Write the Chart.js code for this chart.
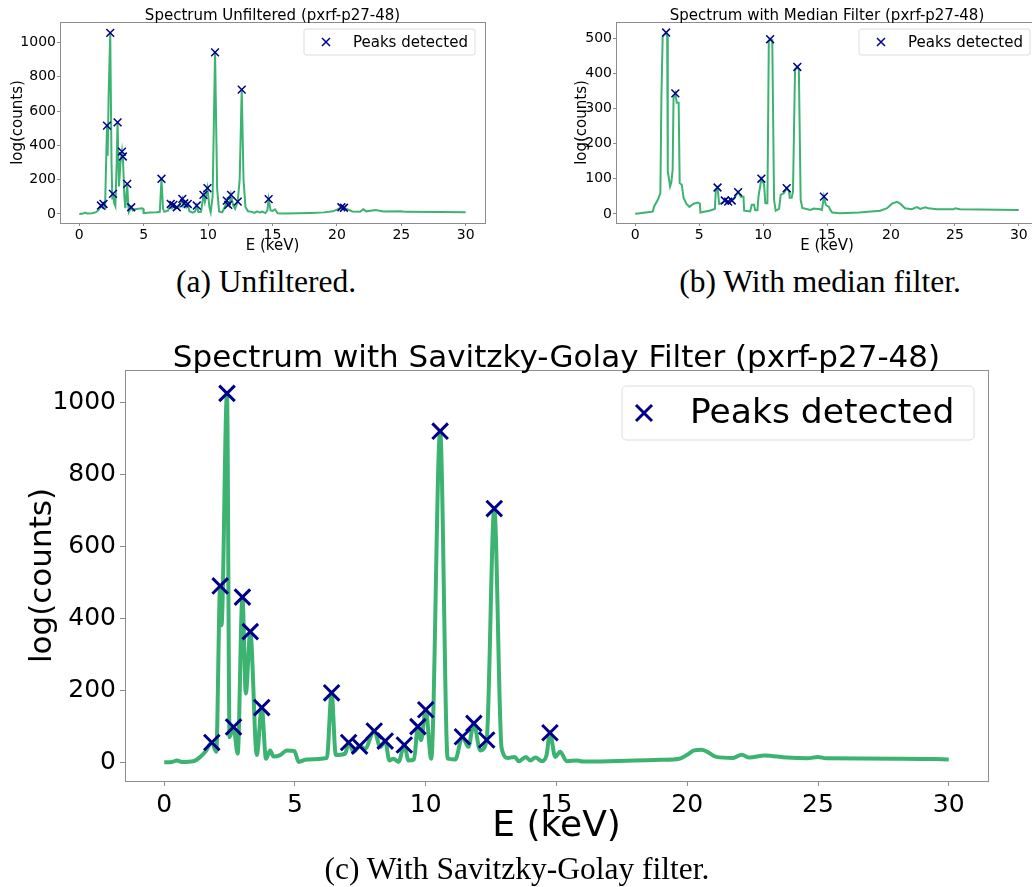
<!DOCTYPE html>
<html>
<head>
<meta charset="utf-8">
<script src="https://cdn.jsdelivr.net/npm/chart.js@4/dist/chart.umd.min.js"></script>
<style>
  html, body { margin: 0; padding: 0; background: #fff; }
  body { position: relative; width: 1032px; height: 887px; overflow: hidden; }
  canvas { position: absolute; }
  .caption {
    position: absolute; transform: translateX(-50%); white-space: nowrap;
    font-family: 'Liberation Serif', 'DejaVu Serif', serif; font-size: 31.5px; color: #000;
  }
</style>
</head>
<body>
<canvas id="chartRaw" width="500" height="255" style="left:0;top:0"></canvas>
<canvas id="chartMedian" width="500" height="255" style="left:560px;top:0"></canvas>
<canvas id="chartSavgol" width="1032" height="535" style="left:0;top:320px"></canvas>
<div class="caption" style="left:266px;top:264px">(a) Unfiltered.</div>
<div class="caption" style="left:820px;top:264px">(b) With median filter.</div>
<div class="caption" style="left:517px;top:851px">(c) With Savitzky-Golay filter.</div>

<script>
// axis ticks
var energyTicks = [0, 5, 10, 15, 20, 25, 30];
var countTicks = [0, 200, 400, 600, 800, 1000];
var medianCountTicks = [0, 100, 200, 300, 400, 500];

// unfiltered spectrum (keV / counts)
var rawEnergy = [0, 0.3, 0.45, 0.6, 1.0, 1.3, 1.5, 1.68, 1.78, 1.88, 2.0, 2.08, 2.15, 2.2, 2.28, 2.4, 2.5, 2.56, 2.61, 2.72,
  2.8, 2.9, 2.97, 3.08, 3.2, 3.31, 3.35, 3.38, 3.5, 3.57, 3.65, 3.72, 3.8, 3.85, 4.03, 4.15, 4.3, 4.6, 4.86, 4.95,
  5.0, 5.5, 6.0, 6.25, 6.38, 6.5, 6.6, 6.9, 7.1, 7.2, 7.3, 7.45, 7.57, 7.7, 8.0, 8.07, 8.15, 8.3, 8.42, 8.55,
  8.8, 9.0, 9.12, 9.25, 9.45, 9.64, 9.75, 9.95, 10.1, 10.2, 10.35, 10.54, 10.7, 10.85, 11.1, 11.3, 11.45, 11.52, 11.57, 11.65,
  11.78, 11.95, 12.1, 12.3, 12.45, 12.61, 12.75, 12.9, 13.1, 13.4, 13.6, 13.8, 14.0, 14.2, 14.45, 14.6, 14.7, 14.85, 15.0, 15.2,
  15.4, 16.0, 17.0, 18.0, 19.0, 19.7, 20.0, 20.35, 20.45, 20.55, 20.8, 21.2, 21.8, 22.05, 22.3, 23.0, 23.6, 25.0, 25.3, 28.0, 30.0];
var rawCounts = [0, 2, 8, 3, 4, 10, 23, 49, 38, 58, 40, 300, 515, 340, 700, 1057, 300, 90, 117, 60,
  45, 300, 534, 160, 300, 364, 330, 335, 100, 33, 100, 175, 50, 12, 39, 20, 27, 30, 33, 30,
  4, 8, 10, 12, 205, 30, 12, 20, 58, 35, 53, 30, 39, 35, 88, 50, 62, 40, 58, 15,
  8, 15, 49, 10, 12, 111, 70, 150, 40, 10, 100, 943, 150, 15, 10, 40, 78, 50, 53, 45,
  111, 50, 30, 72, 200, 725, 200, 40, 15, 12, 6, 15, 8, 13, 5, 20, 86, 20, 18, 27,
  4, 3, 4, 6, 9, 15, 25, 39, 30, 36, 28, 14, 13, 27, 15, 23, 14, 16, 12, 11, 10];
var rawPeakEnergy = [1.68, 1.88, 2.15, 2.4, 2.61, 2.97, 3.31, 3.38, 3.72, 4.03, 6.38, 7.1, 7.3, 7.57, 8.0,
  8.15, 8.42, 9.12, 9.64, 9.95, 10.54, 11.45, 11.57, 11.78, 12.3, 12.61, 14.7, 20.35, 20.55];
var rawPeakCounts = [49, 58, 515, 1057, 117, 534, 364, 335, 175, 39, 205, 58, 53, 39, 88,
  62, 58, 49, 111, 150, 943, 78, 53, 111, 72, 725, 86, 39, 36];

// median filtered spectrum
var medianEnergy = [0, 0.22, 0.8, 1.2, 1.38, 1.48, 1.77, 1.97, 2.05, 2.15, 2.42, 2.5, 2.55, 2.73, 2.83, 2.93, 3.0, 3.14, 3.25, 3.4,
  3.48, 3.64, 3.79, 4.0, 4.24, 4.57, 4.88, 5.06, 5.1, 5.79, 6.23, 6.31, 6.44, 6.57, 6.83, 7.01, 7.15, 7.27, 7.4, 7.55,
  7.74, 8.05, 8.26, 8.47, 8.52, 8.99, 9.12, 9.3, 9.38, 9.56, 9.64, 9.87, 10.08, 10.18, 10.34, 10.45, 10.55, 10.72, 10.86, 10.99,
  11.25, 11.38, 11.64, 11.85, 12.03, 12.08, 12.24, 12.34, 12.5, 12.68, 12.8, 12.94, 13.07, 13.7, 13.96, 14.48, 14.6, 14.76, 14.9, 15.15,
  15.28, 15.41, 16.0, 17.5, 19.17, 19.7, 20.08, 20.47, 20.73, 21.1, 21.62, 22.03, 22.29, 22.68, 22.94, 23.6, 24.9, 25.03, 25.4, 30.0];
var medianCounts = [0, 1, 4, 5, 7, 21, 40, 59, 330, 505, 516, 505, 121, 78, 90, 126, 330, 343, 316, 316,
  88, 83, 45, 29, 20, 29, 32, 29, 4, 9, 14, 69, 75, 28, 31, 38, 33, 35, 33, 38,
  43, 62, 49, 49, 9, 7, 26, 26, 10, 10, 49, 100, 83, 30, 30, 490, 497, 495, 40, 9,
  14, 54, 59, 73, 64, 46, 46, 64, 410, 418, 410, 40, 17, 11, 15, 13, 11, 49, 26, 20,
  10, 4, 2, 4, 9, 16, 29, 34, 29, 16, 13, 19, 14, 19, 16, 13, 13, 16, 13, 11];
var medianPeakEnergy = [2.42, 3.14, 6.44, 7.01, 7.27, 7.55, 8.05, 9.87, 10.55, 11.85, 12.68, 14.76];
var medianPeakCounts = [516, 343, 75, 38, 35, 38, 62, 100, 497, 73, 418, 49];

// Savitzky-Golay filtered spectrum
var savgolEnergy = [0, 0.3, 0.48, 0.67, 1.12, 1.38, 1.57, 1.82, 1.99, 2.14, 2.19, 2.4, 2.5, 2.65, 2.81, 2.99, 3.12, 3.29, 3.54, 3.73,
  3.89, 4.05, 4.18, 4.43, 4.69, 4.98, 5.14, 5.45, 6.22, 6.4, 6.56, 6.92, 7.05, 7.24, 7.47, 7.68, 8.03, 8.26, 8.45, 8.61,
  8.76, 8.96, 9.18, 9.34, 9.55, 9.7, 9.82, 10.0, 10.21, 10.55, 10.84, 11.13, 11.4, 11.63, 11.84, 12.08, 12.33, 12.62, 12.9, 13.15,
  13.4, 13.56, 13.83, 14.0, 14.19, 14.45, 14.62, 14.75, 14.95, 15.14, 15.39, 15.8, 16.0, 17.0, 18.0, 19.0, 19.7, 19.98, 20.26, 20.55,
  20.77, 21.11, 21.75, 22.08, 22.38, 22.95, 23.8, 24.6, 25.0, 25.3, 28.2, 30.0];
var savgolCounts = [0, 1, 5, 1, 3, 15, 29, 55, 29, 490, 381, 1025, 70, 98, 24, 459, 191, 363, 20, 152,
  10, 33, 16, 20, 33, 31, 1, 8, 12, 193, 20, 24, 55, 29, 45, 38, 87, 43, 59, 5,
  10, 1, 48, 5, 8, 99, 61, 146, 10, 920, 10, 8, 71, 43, 108, 33, 62, 705, 40, 12,
  15, 3, 15, 5, 13, 3, 20, 82, 15, 29, 3, 5, 2, 3, 5, 7, 10, 20, 33, 35,
  29, 15, 12, 21, 13, 19, 13, 11, 15, 11, 10, 8];
var savgolPeakEnergy = [1.82, 2.14, 2.4, 2.65, 2.99, 3.29, 3.73, 6.4, 7.05, 7.47, 8.03, 8.45, 9.18, 9.7, 10.0,
  10.55, 11.4, 11.84, 12.33, 12.62, 14.75];
var savgolPeakCounts = [55, 490, 1025, 98, 459, 363, 152, 193, 55, 45, 87, 59, 48, 99, 146,
  920, 71, 108, 62, 705, 82];

var GREEN = '#3cb371';
var NAVY = '#00008b';
var SPINE = '#8c8c8c';
var FONT = "'DejaVu Sans', sans-serif";

// box around the axes, title above it and the framed legend
var axesDecor = {
  id: 'axesDecor',
  afterDatasetsDraw: function (chart, args, o) {
    var a = chart.chartArea;
    var ctx = chart.ctx;
    ctx.save();
    ctx.strokeStyle = SPINE;
    ctx.lineWidth = 1;
    ctx.strokeRect(Math.round(a.left) + 0.5, Math.round(a.top) + 0.5,
      Math.round(a.right - a.left), Math.round(a.bottom - a.top));

    ctx.fillStyle = '#000';
    ctx.font = o.titleSize + 'px ' + FONT;
    ctx.textAlign = 'center';
    ctx.textBaseline = 'alphabetic';
    ctx.fillText(o.title, (a.left + a.right) / 2, a.top - o.titleGap);

    var bx = a.right - o.legendRight - o.legendW;
    var by = a.top + o.legendTop;
    var r = o.legendH * 0.08;
    ctx.beginPath();
    ctx.moveTo(bx + r, by);
    ctx.arcTo(bx + o.legendW, by, bx + o.legendW, by + o.legendH, r);
    ctx.arcTo(bx + o.legendW, by + o.legendH, bx, by + o.legendH, r);
    ctx.arcTo(bx, by + o.legendH, bx, by, r);
    ctx.arcTo(bx, by, bx + o.legendW, by, r);
    ctx.closePath();
    ctx.fillStyle = 'rgba(255,255,255,0.8)';
    ctx.fill();
    ctx.strokeStyle = '#dcdcdc';
    ctx.stroke();

    var mx = bx + o.markerX;
    var my = by + o.legendH / 2;
    var d = o.markerSize;
    ctx.strokeStyle = NAVY;
    ctx.lineWidth = o.markerWidth;
    ctx.beginPath();
    ctx.moveTo(mx - d, my - d); ctx.lineTo(mx + d, my + d);
    ctx.moveTo(mx - d, my + d); ctx.lineTo(mx + d, my - d);
    ctx.stroke();

    ctx.fillStyle = '#000';
    ctx.font = o.legendSize + 'px ' + FONT;
    ctx.textAlign = 'left';
    ctx.textBaseline = 'middle';
    ctx.fillText(o.legendText, bx + o.textX, my + 1);
    ctx.restore();
  }
};

function toPoints(xs, ys) {
  return xs.map(function (x, i) { return { x: x, y: ys[i] }; });
}

function fixedTicks(values) {
  return function (scale) {
    scale.ticks = values.map(function (v) { return { value: v }; });
  };
}

function makeChart(id, p) {
  return new Chart(document.getElementById(id), {
    type: 'line',
    data: {
      datasets: [
        {
          data: toPoints(p.energy, p.counts),
          borderColor: GREEN,
          borderWidth: p.lineWidth,
          pointRadius: 0,
          cubicInterpolationMode: p.smooth ? 'monotone' : 'default',
          tension: 0,
          order: 1
        },
        {
          data: toPoints(p.peakEnergy, p.peakCounts),
          showLine: false,
          pointStyle: 'crossRot',
          pointRadius: p.markerRadius,
          pointBorderWidth: p.markerWidth,
          pointBorderColor: NAVY,
          pointBackgroundColor: NAVY,
          order: 0
        }
      ]
    },
    options: {
      responsive: false,
      animation: false,
      events: [],
      layout: { padding: { top: p.padTop, right: p.padRight, left: 0, bottom: 0 } },
      plugins: {
        legend: { display: false },
        tooltip: { enabled: false },
        axesDecor: p.decor
      },
      scales: {
        x: {
          type: 'linear',
          min: -1.5,
          max: 31.5,
          afterBuildTicks: fixedTicks(energyTicks),
          afterFit: function (s) { s.height = p.xAxisH; },
          ticks: {
            autoSkip: false, maxRotation: 0, padding: p.tickPad, color: '#000',
            font: { family: FONT, size: p.tickSize },
            callback: function (v) { return String(v); }
          },
          grid: { display: true, drawOnChartArea: false, drawTicks: true, tickLength: p.tickLen, color: SPINE },
          border: { display: true, color: SPINE },
          title: {
            display: true, text: 'E (keV)', color: '#000',
            font: { family: FONT, size: p.xLabelSize }, padding: { top: 0, bottom: p.xTitlePad }
          }
        },
        y: {
          min: p.yMin,
          max: p.yMax,
          afterBuildTicks: fixedTicks(p.yTicks),
          afterFit: function (s) { s.width = p.yAxisW; },
          ticks: {
            autoSkip: false, padding: p.tickPad, color: '#000',
            font: { family: FONT, size: p.tickSize },
            callback: function (v) { return String(v); }
          },
          grid: { display: true, drawOnChartArea: false, drawTicks: true, tickLength: p.tickLen, color: SPINE },
          border: { display: true, color: SPINE },
          title: {
            display: true, text: 'log(counts)', color: '#000',
            font: { family: FONT, size: p.yLabelSize }, padding: { top: p.yTitlePad, bottom: 0 }
          }
        }
      }
    },
    plugins: [axesDecor]
  });
}

var smallDecor = {
  titleSize: 15, titleGap: 2,
  legendText: 'Peaks detected', legendSize: 15,
  legendRight: 10, legendTop: 7, legendW: 171, legendH: 26,
  markerX: 22, markerSize: 4, markerWidth: 1.5, textX: 49
};

makeChart('chartRaw', {
  energy: rawEnergy, counts: rawCounts, peakEnergy: rawPeakEnergy, peakCounts: rawPeakCounts,
  yTicks: countTicks, yMin: -53, yMax: 1120,
  lineWidth: 2, smooth: false, markerRadius: 5.5, markerWidth: 1.5,
  padTop: 22, padRight: 15, yAxisW: 60, xAxisH: 32,
  tickSize: 14, tickLen: 3, tickPad: 1, xLabelSize: 15, yLabelSize: 15, xTitlePad: 0, yTitlePad: 9,
  decor: Object.assign({ title: 'Spectrum Unfiltered (pxrf-p27-48)' }, smallDecor)
});

makeChart('chartMedian', {
  energy: medianEnergy, counts: medianCounts, peakEnergy: medianPeakEnergy, peakCounts: medianPeakCounts,
  yTicks: medianCountTicks, yMin: -26, yMax: 546,
  lineWidth: 2, smooth: false, markerRadius: 5.5, markerWidth: 1.5,
  padTop: 22, padRight: 22, yAxisW: 56, xAxisH: 32,
  tickSize: 14, tickLen: 3, tickPad: 1, xLabelSize: 15, yLabelSize: 15, xTitlePad: 0, yTitlePad: 13,
  decor: Object.assign({ title: 'Spectrum with Median Filter (pxrf-p27-48)' }, smallDecor, { legendRight: 8 })
});

makeChart('chartSavgol', {
  energy: savgolEnergy, counts: savgolCounts, peakEnergy: savgolPeakEnergy, peakCounts: savgolPeakCounts,
  yTicks: countTicks, yMin: -52, yMax: 1090,
  lineWidth: 4, smooth: true, markerRadius: 11, markerWidth: 3,
  padTop: 50, padRight: 44, yAxisW: 125, xAxisH: 74,
  tickSize: 25, tickLen: 5, tickPad: 4, xLabelSize: 36, yLabelSize: 31, xTitlePad: 7, yTitlePad: 24,
  decor: {
    title: 'Spectrum with Savitzky-Golay Filter (pxrf-p27-48)', titleSize: 31, titleGap: 3,
    legendText: 'Peaks detected', legendSize: 34.5,
    legendRight: 14, legendTop: 16, legendW: 352, legendH: 54,
    markerX: 22, markerSize: 8, markerWidth: 3, textX: 68
  }
});
</script>
</body>
</html>
